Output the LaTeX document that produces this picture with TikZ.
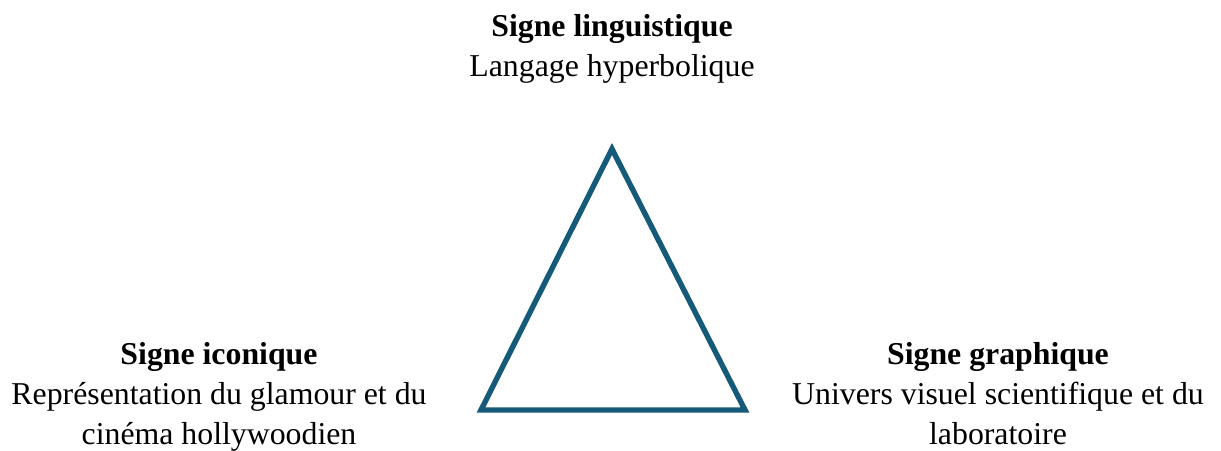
\documentclass[tikz,border=0pt]{standalone}
\usepackage{fontspec}
\setmainfont{Liberation Serif}
\usetikzlibrary{positioning}
\definecolor{edge}{HTML}{155A78}

\begin{document}
\begin{tikzpicture}[x=0.5pt,y=-0.5pt,
  signe/.style={align=center,inner sep=0pt,anchor=north,
                font=\fontsize{15.9}{20}\selectfont},
  side/.style={draw=edge,line width=2.7pt,line join=miter}
]
\useasboundingbox (0,0) rectangle (1221,450);
% sommets du triangle
\coordinate (apex) at (612,149);
\coordinate (bl) at (481,410);
\coordinate (br) at (745,410);
\draw[side] (apex) -- (bl) -- (br) -- cycle;
% les trois signes
\node[signe] (ling) at (612,14) {\textbf{Signe linguistique}\\Langage hyperbolique};
\node[signe] (icon) at (219,342) {\textbf{Signe iconique}\\Représentation du glamour et du\\cinéma hollywoodien};
\node[signe] (graph) at (998,342) {\textbf{Signe graphique}\\Univers visuel scientifique et du\\laboratoire};
\end{tikzpicture}
\end{document}
